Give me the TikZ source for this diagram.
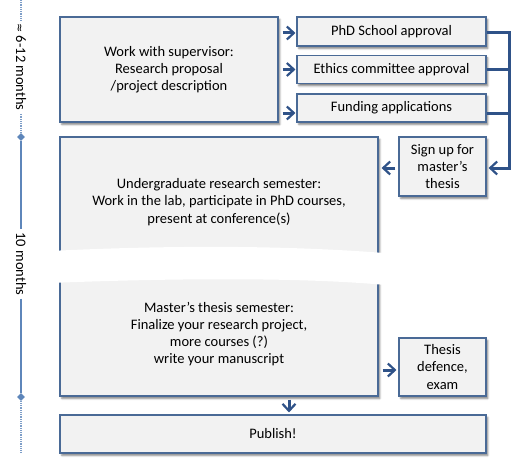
\documentclass[tikz,border=0pt]{standalone}
\usepackage{fontspec}
\setmainfont{Carlito}
\newfontfamily\symfont{DejaVu Sans}
\usetikzlibrary{arrows.meta,shadows.blur,shapes.geometric}
\definecolor{bord}{HTML}{4A6A96}
\definecolor{arr}{HTML}{2F5288}
\definecolor{fillg}{HTML}{F2F2F2}
\definecolor{tl}{HTML}{5E86BA}
\begin{document}
\begin{tikzpicture}[x=1pt,y=-1pt,
  txt/.style={font=\fontsize{14.5}{17.2}\selectfont},
  box/.style={txt, draw=bord, line width=1.1pt, fill=fillg, align=center, inner sep=0pt,
    blur shadow={shadow xshift=1.8pt, shadow yshift=-2.4pt, shadow blur steps=4, shadow opacity=50}},
  arrw/.style={draw=arr, line width=3pt, -{Straight Barb[length=7pt,width=13pt,line width=2.2pt]}},
  brk/.style={draw=arr, line width=3pt},
  tline/.style={draw=tl, line width=2.2pt},
  tdot/.style={draw=tl!80, line width=1.4pt, dash pattern=on 0.9pt off 0.9pt},
  tmark/.style={diamond, fill=tl, inner sep=0pt, minimum size=8pt}
]
\useasboundingbox (0,0) rectangle (521,468);

% boxes
\node[box, minimum width=218pt, minimum height=105pt] (A) at (169,69.5)
  {Work with supervisor:\\Research proposal\\/project description};
\node[box, minimum width=189pt, minimum height=29pt] (phd) at (391.5,31.5) {PhD School approval};
\node[box, minimum width=189pt, minimum height=28pt] (eth) at (391.5,69.5) {Ethics committee approval};
\node[box, minimum width=189pt, minimum height=28pt] (fund) at (391.5,108) {Funding applications};
\node[box, minimum width=87pt, minimum height=59pt] (sign) at (442.5,166.5) {Sign up for\\master’s\\thesis};
\node[box, minimum width=318pt, minimum height=130pt] (ug) at (219,202)
  {Undergraduate research semester:\\Work in the lab, participate in PhD courses,\\present at conference(s)};
\node[box, minimum width=318pt, minimum height=124pt] (ms) at (219,334)
  {Master’s thesis semester:\\Finalize your research project,\\more courses (?)\\write your manuscript};
\node[box, minimum width=87pt, minimum height=58pt] (def) at (442.5,367) {Thesis\\defence,\\exam};
\node[box, minimum width=426pt, minimum height=38pt] (pub) at (273,434) {Publish!};

% white wavy band
\fill[white] (50,251) .. controls (150,246) and (280,244) .. (396,254)
  -- (396,286) .. controls (300,276) and (150,279) .. (50,283) -- cycle;

% arrows from A
\draw[arrw, shorten <=4pt, shorten >=1pt] ([yshift=-1.5pt]A.east |- phd.west) -- ([yshift=-1.5pt]phd.west);
\draw[arrw, shorten <=4pt, shorten >=1pt] (A.east |- eth.west) -- (eth.west);
\draw[arrw, shorten <=4pt, shorten >=1pt] ([yshift=-5pt]A.east |- fund.west) -- ([yshift=-5pt]fund.west);

% bracket
\coordinate (bx) at (509,0);
\draw[brk] (eth.east) -- (bx |- eth.east);
\draw[brk] ([yshift=-5pt]fund.east) -- ([yshift=-5pt]bx |- fund.east);
\draw[arrw, line join=miter] ([yshift=-1.5pt]phd.east) -- ([yshift=-1.5pt]bx |- phd.east) -- ([yshift=-1.5pt]bx |- sign.east) -- ([yshift=-1.5pt,xshift=2pt]sign.east);

% sign -> ug
\draw[arrw, shorten <=3pt, shorten >=3pt] ([yshift=-1.5pt]sign.west) -- ([yshift=-1.5pt]sign.west -| ug.east);

% ms -> defence
\draw[arrw, shorten <=4pt, shorten >=2pt] ([yshift=-3pt]def.west -| ms.east) -- ([yshift=-3pt]def.west);

% ms -> publish
\coordinate (px) at (289,0);
\draw[arrw, shorten <=3pt, shorten >=2pt] (px |- ms.south) -- (px |- pub.north);

% timeline
\node[txt, rotate=-90, inner sep=3pt] (tA) at (21,67) {{\symfont\fontsize{11}{11}\selectfont ≈} 6-12 months};
\node[txt, rotate=-90, inner sep=3pt] (tB) at (21,264) {10 months};
\node[tmark] (d1) at (21,137) {};
\node[tmark] (d2) at (21,397) {};
\coordinate (top) at (21,0);
\coordinate (bot) at (21,453);
\draw[tdot] (top) -- (tA.west);
\draw[tdot] (tA.east) -- (d1);
\draw[tline] (d1) -- (tB.west);
\draw[tline] (tB.east) -- (d2);
\draw[tdot] (d2) -- (bot);
\end{tikzpicture}
\end{document}
